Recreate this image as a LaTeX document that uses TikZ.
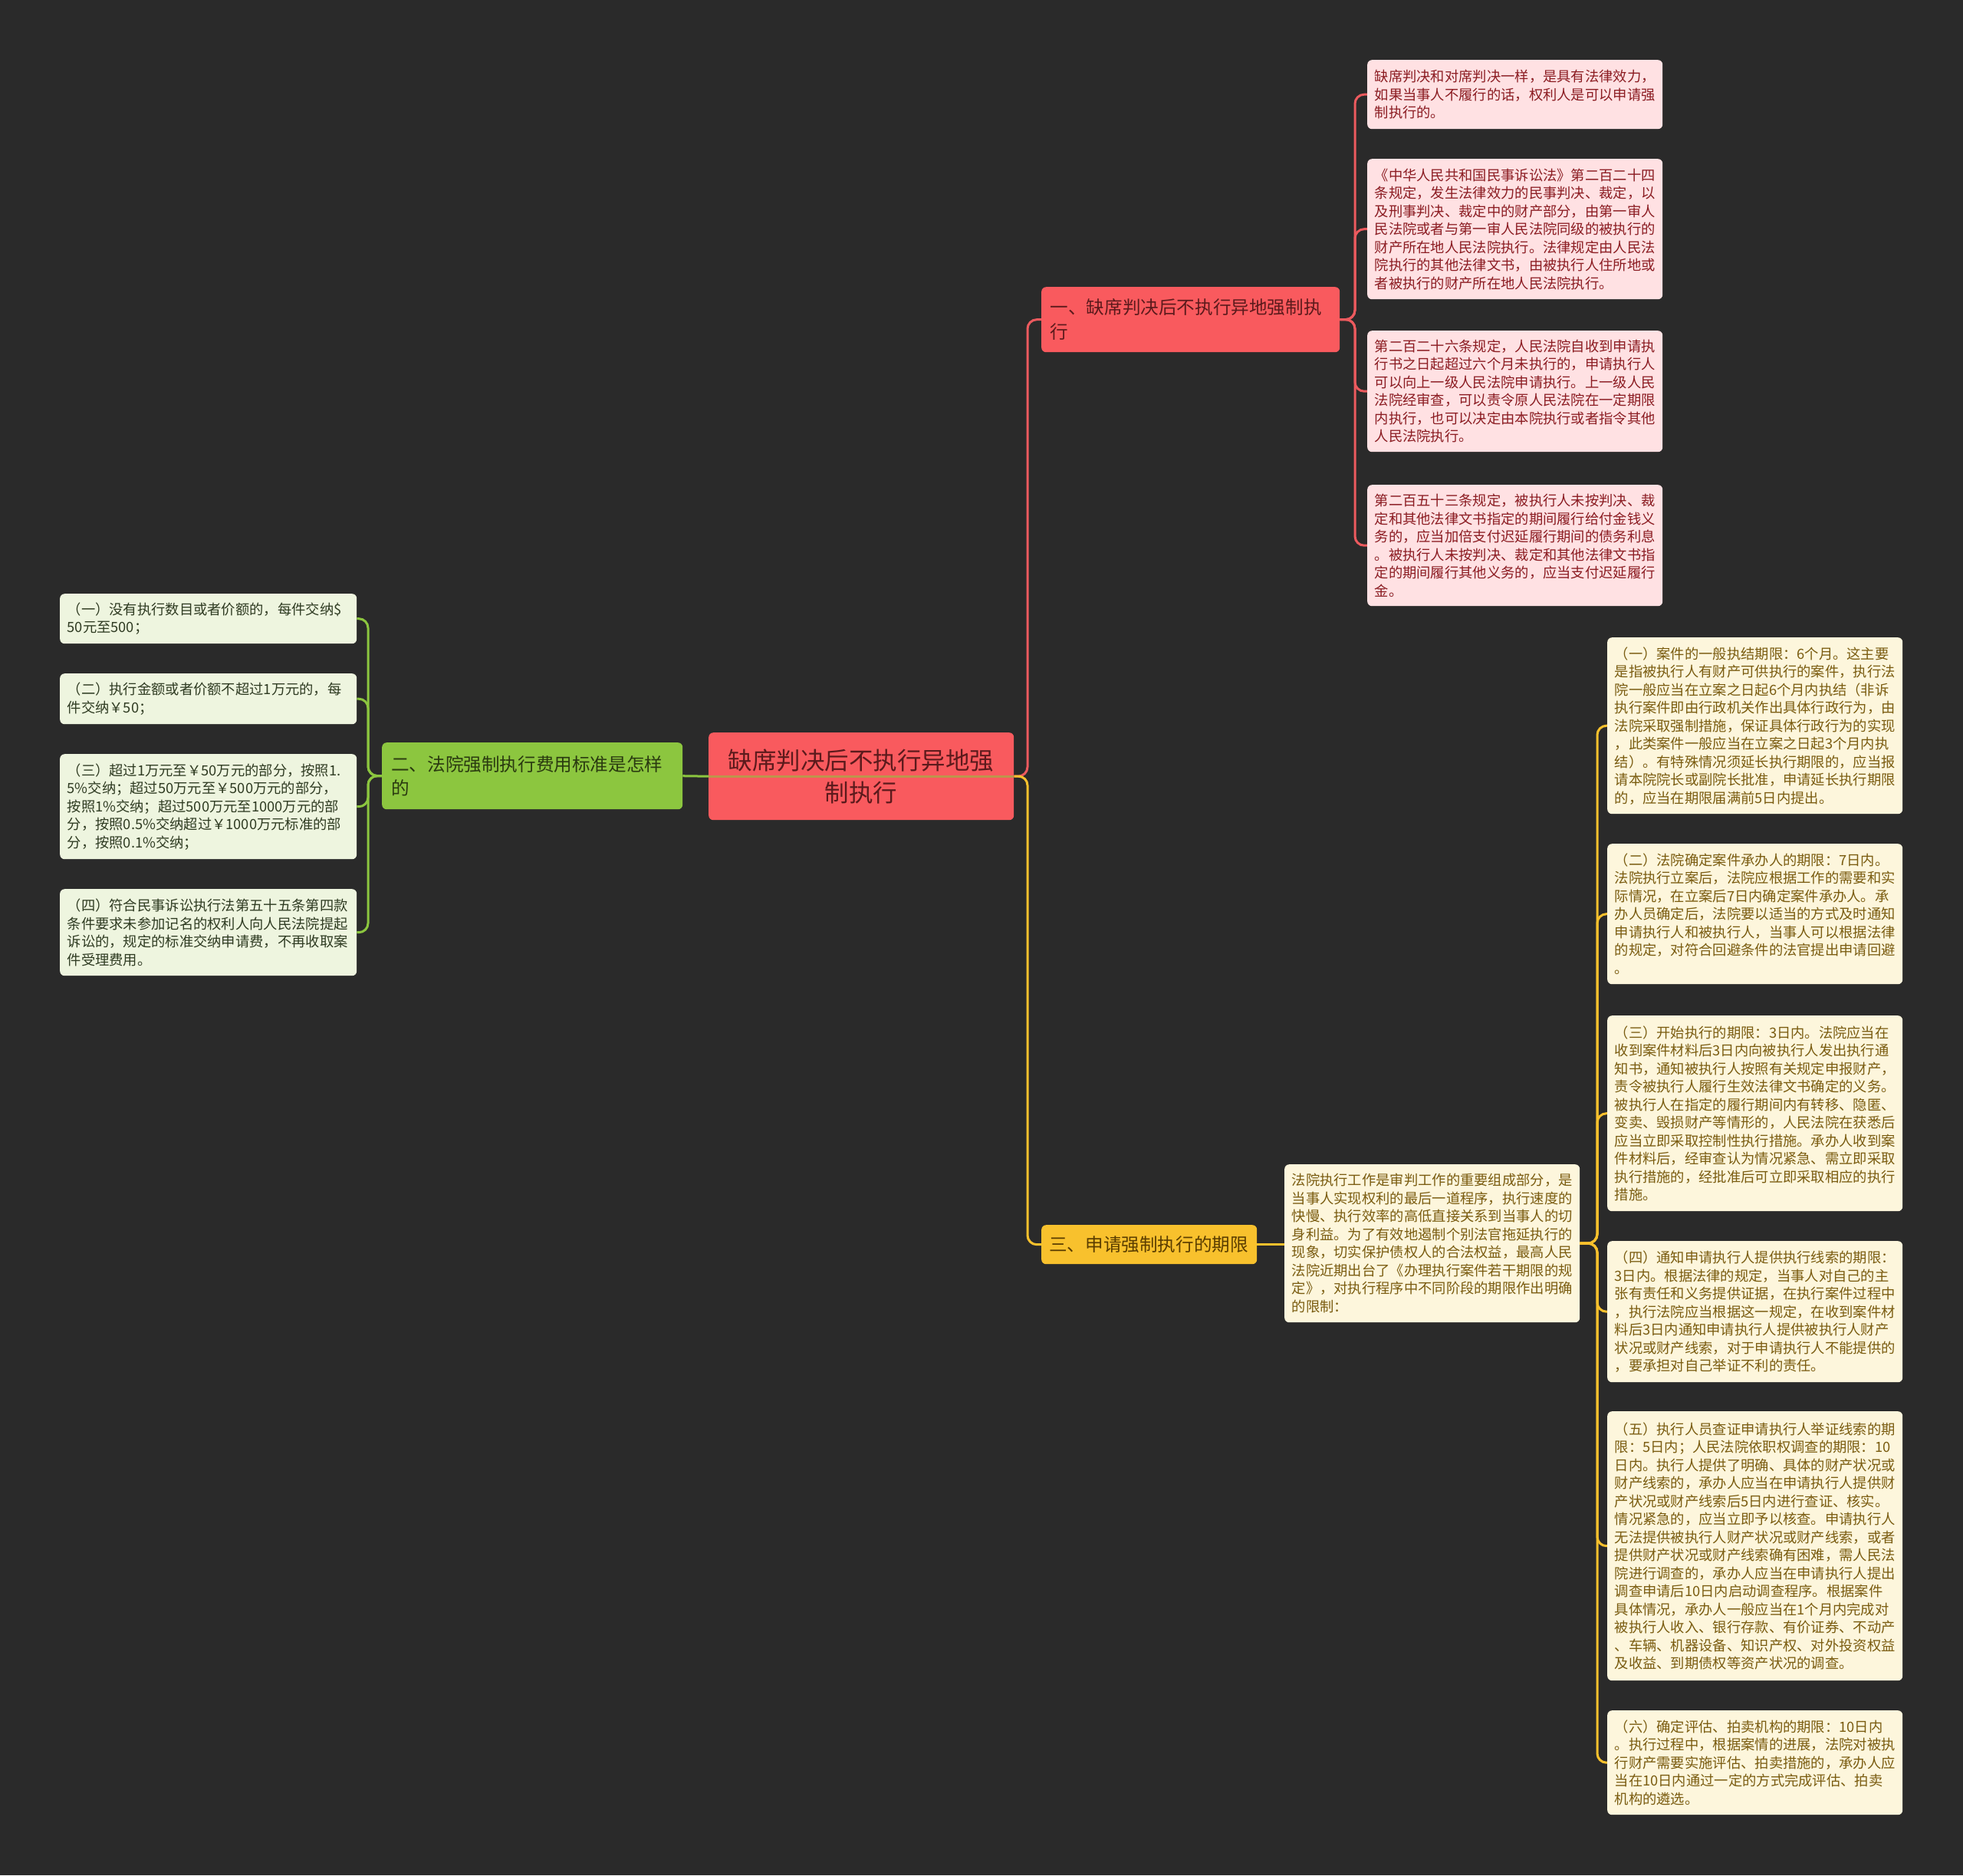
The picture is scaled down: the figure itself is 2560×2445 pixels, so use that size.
\documentclass[tikz,border=0pt]{standalone}
\usepackage{fontspec}
\setmainfont{Noto Sans CJK SC}
\definecolor{bgc}{HTML}{2A2A2A}
\definecolor{redc}{HTML}{F95A5E}
\definecolor{redline}{HTML}{EC5A5E}
\definecolor{redtxt}{HTML}{5C1A1C}
\definecolor{pinkfill}{HTML}{FFE1E3}
\definecolor{pinktxt}{HTML}{8B1C22}
\definecolor{greenc}{HTML}{8CC63F}
\definecolor{greentxt}{HTML}{2A3A10}
\definecolor{greenfill}{HTML}{EEF5DF}
\definecolor{greenleaftxt}{HTML}{2F3B22}
\definecolor{yellowc}{HTML}{F8C12D}
\definecolor{yellowtxt}{HTML}{5A3D00}
\definecolor{yellowfill}{HTML}{FDF6DC}
\definecolor{yellowleaftxt}{HTML}{7A5C10}
\pgfdeclarelayer{bglayer}
\pgfsetlayers{bglayer,main}
\tikzset{
  box/.style={anchor=north west, rounded corners=6pt, inner ysep=0pt, align=left},
  leaf/.style={box, inner xsep=9.5pt, text width=366pt, font=\fontsize{18.3pt}{23.5pt}\selectfont},
  pinkleaf/.style={leaf, fill=pinkfill, text=pinktxt},
  yleaf/.style={leaf, fill=yellowfill, text=yellowleaftxt},
  gleaf/.style={leaf, fill=greenfill, text=greenleaftxt, text width=368pt},
  branch/.style={box, inner xsep=11.5pt, font=\fontsize{23.6pt}{31.7pt}\selectfont},
  rline/.style={draw=redline, line width=3pt, rounded corners=12pt},
  yline/.style={draw=yellowc, line width=3pt, rounded corners=12pt},
  gline/.style={draw=greenc, line width=3pt, rounded corners=12pt}
}
\begin{document}
\begin{tikzpicture}[x=1pt,y=-1pt]
\begin{pgfonlayer}{bglayer}
\fill[bgc] (0,0) rectangle (2560,2445);
\end{pgfonlayer}
\useasboundingbox (0,0) rectangle (2560,2445);

% root
\node[box, align=center, inner xsep=10pt, text width=378pt, minimum height=114pt, fill=redc, text=redtxt, font=\fontsize{31.5pt}{42pt}\selectfont] (root) at (924,955) {缺席判决后不执行异地强\\制执行};

% branches
\node[branch, text width=366pt, minimum height=85pt, fill=redc, text=redtxt] (b1) at (1358,374) {一、缺席判决后不执行异地强制执\\行};
\node[branch, inner xsep=12pt, text width=368pt, minimum height=87pt, fill=greenc, text=greentxt] (b2) at (498,968) {二、法院强制执行费用标准是怎样\\的};
\node[branch, inner xsep=10pt, text width=261pt, minimum height=51pt, fill=yellowc, text=yellowtxt] (b3) at (1358,1597) {三、申请强制执行的期限};

% pink leaves
\node[pinkleaf, minimum height=90pt] (p1) at (1783,78) {缺席判决和对席判决一样，是具有法律效力，\\如果当事人不履行的话，权利人是可以申请强\\制执行的。};
\node[pinkleaf, minimum height=183pt] (p2) at (1783,207) {《中华人民共和国民事诉讼法》第二百二十四\\条规定，发生法律效力的民事判决、裁定，以\\及刑事判决、裁定中的财产部分，由第一审人\\民法院或者与第一审人民法院同级的被执行的\\财产所在地人民法院执行。法律规定由人民法\\院执行的其他法律文书，由被执行人住所地或\\者被执行的财产所在地人民法院执行。};
\node[pinkleaf, minimum height=158pt] (p3) at (1783,431) {第二百二十六条规定，人民法院自收到申请执\\行书之日起超过六个月未执行的，申请执行人\\可以向上一级人民法院申请执行。上一级人民\\法院经审查，可以责令原人民法院在一定期限\\内执行，也可以决定由本院执行或者指令其他\\人民法院执行。};
\node[pinkleaf, minimum height=158pt] (p4) at (1783,632) {第二百五十三条规定，被执行人未按判决、裁\\定和其他法律文书指定的期间履行给付金钱义\\务的，应当加倍支付迟延履行期间的债务利息\\。被执行人未按判决、裁定和其他法律文书指\\定的期间履行其他义务的，应当支付迟延履行\\金。};

% middle box
\node[yleaf, minimum height=206pt] (mid) at (1675,1518) {法院执行工作是审判工作的重要组成部分，是\\当事人实现权利的最后一道程序，执行速度的\\快慢、执行效率的高低直接关系到当事人的切\\身利益。为了有效地遏制个别法官拖延执行的\\现象，切实保护债权人的合法权益，最高人民\\法院近期出台了《办理执行案件若干期限的规\\定》，对执行程序中不同阶段的期限作出明确\\的限制：};

% yellow leaves
\node[yleaf, minimum height=230pt] (y1) at (2096,831) {（一）案件的一般执结期限：6个月。这主要\\是指被执行人有财产可供执行的案件，执行法\\院一般应当在立案之日起6个月内执结（非诉\\执行案件即由行政机关作出具体行政行为，由\\法院采取强制措施，保证具体行政行为的实现\\，此类案件一般应当在立案之日起3个月内执\\结）。有特殊情况须延长执行期限的，应当报\\请本院院长或副院长批准，申请延长执行期限\\的，应当在期限届满前5日内提出。};
\node[yleaf, minimum height=183pt] (y2) at (2096,1100) {（二）法院确定案件承办人的期限：7日内。\\法院执行立案后，法院应根据工作的需要和实\\际情况，在立案后7日内确定案件承办人。承\\办人员确定后，法院要以适当的方式及时通知\\申请执行人和被执行人，当事人可以根据法律\\的规定，对符合回避条件的法官提出申请回避\\。};
\node[yleaf, minimum height=255pt] (y3) at (2096,1324) {（三）开始执行的期限：3日内。法院应当在\\收到案件材料后3日内向被执行人发出执行通\\知书，通知被执行人按照有关规定申报财产，\\责令被执行人履行生效法律文书确定的义务。\\被执行人在指定的履行期间内有转移、隐匿、\\变卖、毁损财产等情形的，人民法院在获悉后\\应当立即采取控制性执行措施。承办人收到案\\件材料后，经审查认为情况紧急、需立即采取\\执行措施的，经批准后可立即采取相应的执行\\措施。};
\node[yleaf, minimum height=184pt] (y4) at (2096,1618) {（四）通知申请执行人提供执行线索的期限：\\3日内。根据法律的规定，当事人对自己的主\\张有责任和义务提供证据，在执行案件过程中\\，执行法院应当根据这一规定，在收到案件材\\料后3日内通知申请执行人提供被执行人财产\\状况或财产线索，对于申请执行人不能提供的\\，要承担对自己举证不利的责任。};
\node[yleaf, minimum height=351pt] (y5) at (2096,1840) {（五）执行人员查证申请执行人举证线索的期\\限：5日内；人民法院依职权调查的期限：10\\日内。执行人提供了明确、具体的财产状况或\\财产线索的，承办人应当在申请执行人提供财\\产状况或财产线索后5日内进行查证、核实。\\情况紧急的，应当立即予以核查。申请执行人\\无法提供被执行人财产状况或财产线索，或者\\提供财产状况或财产线索确有困难，需人民法\\院进行调查的，承办人应当在申请执行人提出\\调查申请后10日内启动调查程序。根据案件\\具体情况，承办人一般应当在1个月内完成对\\被执行人收入、银行存款、有价证券、不动产\\、车辆、机器设备、知识产权、对外投资权益\\及收益、到期债权等资产状况的调查。};
\node[yleaf, minimum height=136pt] (y6) at (2096,2230) {（六）确定评估、拍卖机构的期限：10日内\\。执行过程中，根据案情的进展，法院对被执\\行财产需要实施评估、拍卖措施的，承办人应\\当在10日内通过一定的方式完成评估、拍卖\\机构的遴选。};

% green leaves
\node[gleaf, minimum height=65pt] (g1) at (78,774) {（一）没有执行数目或者价额的，每件交纳\$\\50元至500；};
\node[gleaf, minimum height=66pt] (g2) at (78,878) {（二）执行金额或者价额不超过1万元的，每\\件交纳￥50；};
\node[gleaf, minimum height=137pt] (g3) at (78,983) {（三）超过1万元至￥50万元的部分，按照1.\\5\%交纳；超过50万元至￥500万元的部分，\\按照1\%交纳；超过500万元至1000万元的部\\分，按照0.5\%交纳超过￥1000万元标准的部\\分，按照0.1\%交纳；};
\node[gleaf, minimum height=113pt] (g4) at (78,1159) {（四）符合民事诉讼执行法第五十五条第四款\\条件要求未参加记名的权利人向人民法院提起\\诉讼的，规定的标准交纳申请费，不再收取案\\件受理费用。};

% spine coordinates
\coordinate (s1) at (1340,1012);
\coordinate (s2) at (1767,416.5);
\coordinate (s3) at (2083,1621);
\coordinate (s4) at (480,1011.5);

\begin{pgfonlayer}{bglayer}
\draw[rline] (root.east) -- (s1) |- (b1.west);
\draw[yline] (root.east) -- (s1) |- (b3.west);
\draw[gline] (root.west) -- (b2.east);
\foreach \n in {p1,p2,p3,p4} {\draw[rline] (b1.east) -- (s2) |- (\n.west);}
\draw[yline] (b3.east) -- (b3.east -| mid.west);
\foreach \n in {y1,y2,y3,y4,y5,y6} {\draw[yline] (mid.east) -- (s3) |- (\n.west);}
\foreach \n in {g1,g2,g3,g4} {\draw[gline] (b2.west) -- (s4) |- (\n.east);}
\end{pgfonlayer}
\draw[greenc, line width=3pt, opacity=0.55] (root.west) -- (root.east);
\end{tikzpicture}
\end{document}
